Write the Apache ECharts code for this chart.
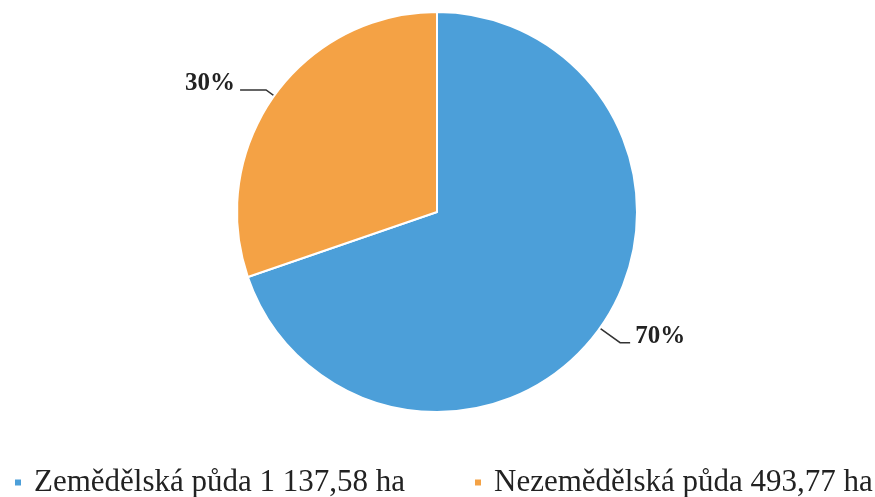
<!DOCTYPE html>
<html>
<head>
<meta charset="utf-8">
<script src="https://cdn.jsdelivr.net/npm/echarts@6/dist/echarts.min.js"></script>
<style>html,body{margin:0;padding:0;background:#fff}#c{width:875px;height:497px}</style>
</head>
<body>
<div id="c"></div>
<script>
var categories = ['Zemědělská půda', 'Nezemědělská půda'];
var values = [1137.58, 493.77];
var colors = ['#4c9fd9', '#f4a245'];

function fmtNum(v) {
  var parts = v.toFixed(2).split('.');
  var intPart = parts[0].replace(/\B(?=(\d{3})+(?!\d))/g, ' ');
  return intPart + ',' + parts[1];
}

var legendLefts = [13, 473];
var leaderLines = [{ length: 25, length2: 10 }, { length: 10, length2: 26 }];

var legendBase = {
  top: 467,
  padding: 0,
  icon: 'rect',
  itemWidth: 8,
  itemHeight: 8,
  textStyle: { fontFamily: 'Liberation Serif', fontSize: 31, color: '#222', padding: [0, 0, 0, 7] },
  formatter: function (name) {
    var i = categories.indexOf(name);
    return name + ' ' + fmtNum(values[i]) + ' ha';
  }
};

var chart = echarts.init(document.getElementById('c'));
chart.setOption({
  animation: false,
  legend: categories.map(function (c, i) {
    return Object.assign({}, legendBase, { left: legendLefts[i], data: [c] });
  }),
  series: [{
    type: 'pie',
    center: [437, 212],
    radius: [0, 200],
    startAngle: 90,
    clockwise: true,
    color: colors,
    itemStyle: { borderColor: '#fff', borderWidth: 2 },
    label: {
      show: true,
      position: 'outside',
      formatter: function (p) { return '{v|' + Math.round(p.percent) + '%}\n{s| }'; },
      rich: {
        v: { fontFamily: 'Liberation Serif', fontWeight: 'bold', fontSize: 25, color: '#222', height: 25 },
        s: { fontSize: 8, height: 13 }
      },
      distanceToLabelLine: 5
    },
    labelLine: {
      show: true,
      lineStyle: { color: '#333', width: 1.5 }
    },
    data: categories.map(function (c, i) {
      return { name: c, value: values[i], labelLine: leaderLines[i] };
    })
  }]
});
</script>
</body>
</html>
